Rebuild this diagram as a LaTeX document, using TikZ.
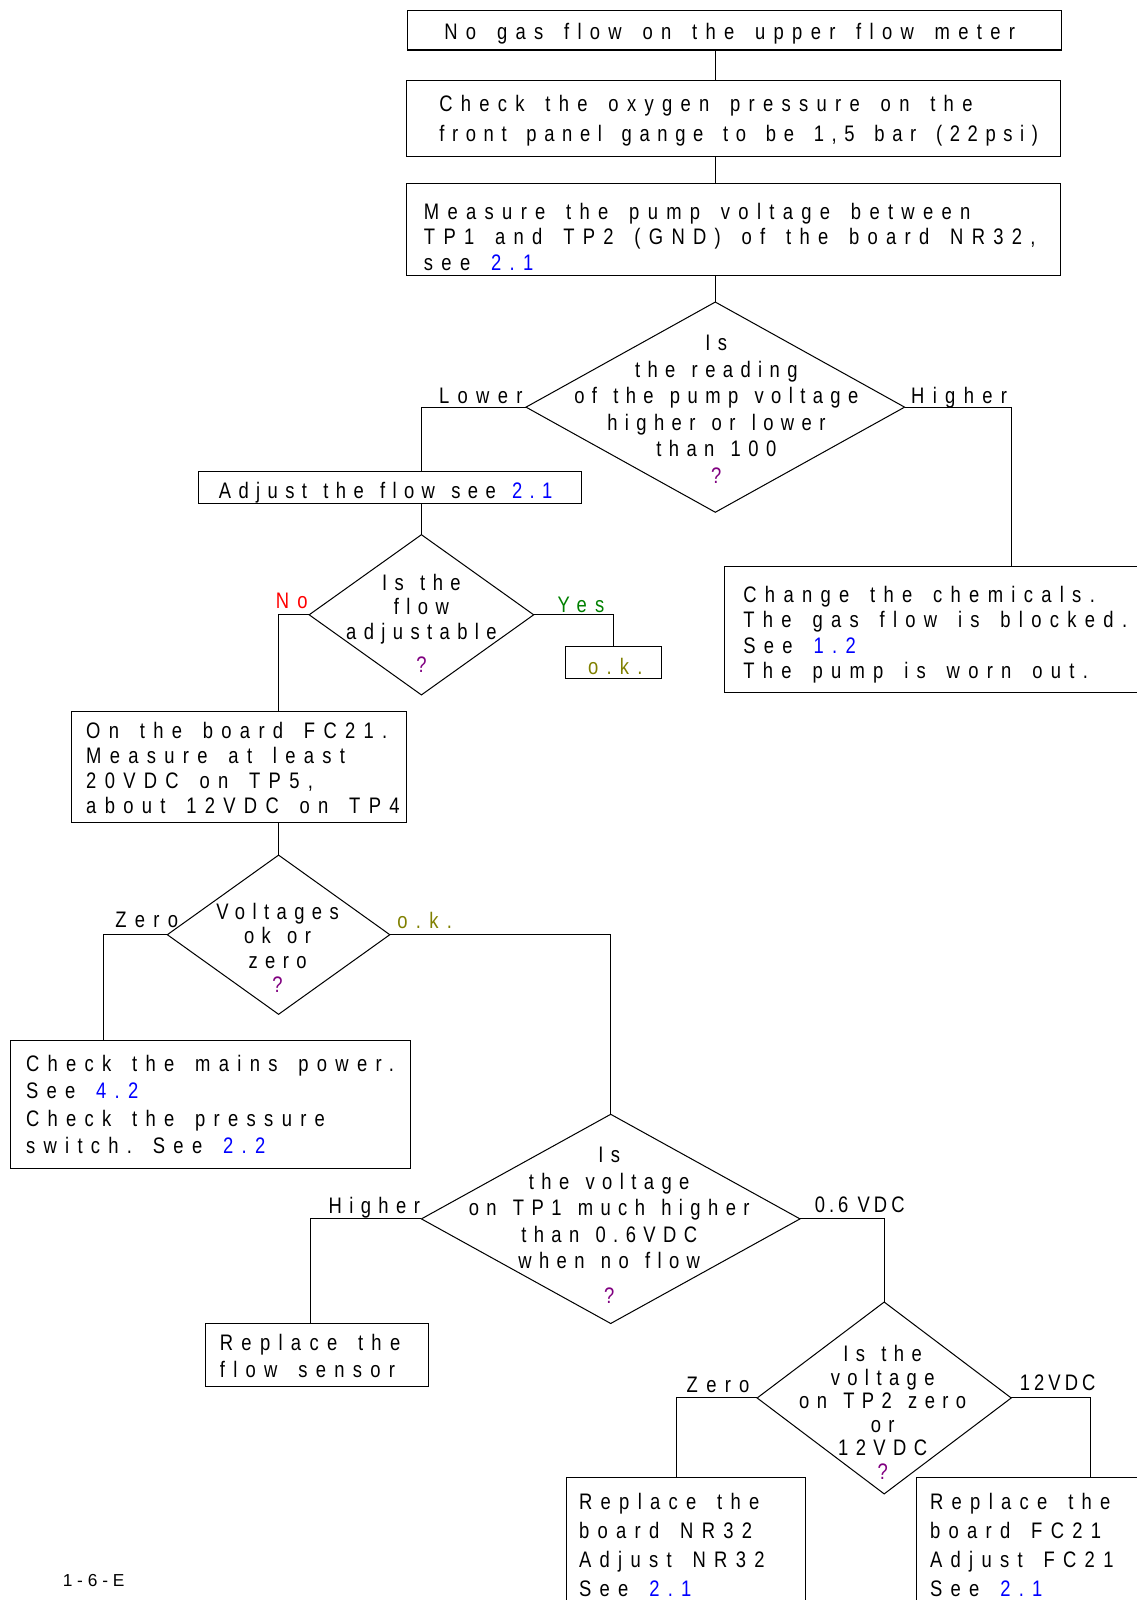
\documentclass[tikz,border=0pt]{standalone}
\usepackage{fontspec}
\setmainfont{Liberation Sans}
\newfontfamily\boxfont{Liberation Sans}[FakeStretch=0.82,LetterSpace=37,WordSpace=1.55]
\newfontfamily\diafont{Liberation Sans}[FakeStretch=0.82,LetterSpace=33,WordSpace=1.3]
\newfontfamily\tightfont{Liberation Sans}[FakeStretch=0.82,LetterSpace=18]
\usetikzlibrary{shapes.geometric}
\frenchspacing

\definecolor{lnkblue}{rgb}{0,0,1}
\definecolor{qpurple}{rgb}{0.5,0,0.5}
\definecolor{okolive}{rgb}{0.5,0.5,0}
\definecolor{yesgreen}{rgb}{0,0.5,0}
\definecolor{nored}{rgb}{1,0,0}
\newcommand{\lnk}[1]{\textcolor{lnkblue}{#1}}
\newcommand{\qm}{\textcolor{qpurple}{?}}

\begin{document}
\begin{tikzpicture}[x=1pt, y=-1pt, line width=1pt,
    box/.style={draw, inner sep=0pt, outer sep=0pt},
    boxtext/.style={anchor=west, align=left, inner sep=0pt, font={\fontsize{22pt}{#1}\boxfont}},
    boxtext/.default=26pt,
    dia/.style={draw, diamond, inner sep=0pt, outer sep=0pt},
    diatext/.style={align=center, inner sep=0pt, font={\fontsize{22pt}{#1}\diafont}},
    diatext/.default=25pt,
    lbl/.style={inner sep=1pt, font={\fontsize{22pt}{26pt}\boxfont}},
    dlbl/.style={inner sep=1pt, font={\fontsize{22pt}{26pt}\diafont}},
    tlbl/.style={inner sep=1pt, font={\fontsize{22pt}{26pt}\tightfont\spaceskip=9pt\relax}}]
\useasboundingbox (0,0) rectangle (1114,1568);
\clip (0,0) rectangle (1114,1568);

\node[box, minimum width=641pt, minimum height=39pt] (nogas) at (719.5,29.5) {};
\node[boxtext] (nogas-t) at ([xshift=36pt,yshift=-4pt]nogas.west) {No gas flow on the upper flow meter};
\node[box, minimum width=641pt, minimum height=74pt] (oxy) at (718.5,116) {};
\node[boxtext=29pt] (oxy-t) at ([xshift=32pt,yshift=-2pt]oxy.west) {Check the oxygen pressure on the\\{\addfontfeature{LetterSpace=34}front panel gange to be 1,5 bar (22psi)}};
\node[box, minimum width=641pt, minimum height=90pt] (pump) at (718.5,225) {};
\node[boxtext=25pt] (pump-t) at ([xshift=17pt,yshift=-7pt]pump.west) {Measure the pump voltage between\\TP1 and TP2 (GND) of the board NR32,\\see \lnk{2.1}};

\node[dia, minimum width=371pt, minimum height=206pt] (reading) at (701,399) {};
\node[diatext=26pt] (reading-t) at (702,401) {Is\\the reading\\of the pump voltage\\higher or lower\\than 100\\\qm};
\node[lbl, anchor=base east] (lower) at ([xshift=-2pt,yshift=4pt]reading.west) {Lower};
\node[lbl, anchor=base west] (higher) at ([xshift=5pt,yshift=4pt]reading.east) {Higher};

\node[box, minimum width=375pt, minimum height=31pt] (adjust) at (382.5,477.5) {};
\node[diatext, anchor=west] (adjust-t) at ([xshift=19pt,yshift=-5pt]adjust.west) {Adjust the flow see \lnk{2.1}};
\node[box, minimum width=562pt, minimum height=124pt] (chem) at (991,617) {};
\node[boxtext=25pt] (chem-t) at ([xshift=18pt,yshift=-5pt]chem.west) {Change the chemicals.\\The gas flow is blocked.\\See \lnk{1.2}\\The pump is worn out.};

\node[dia, minimum width=220pt, minimum height=157pt] (adjq) at (413,602.5) {};
\node[diatext=24pt] (adjq-t) at (413,611) {Is the\\flow\\adjustable\\[9pt]\qm};
\node[lbl, anchor=base east, text=nored] (no) at ([yshift=6pt]adjq.west) {No};
\node[lbl, anchor=base west, text=yesgreen] (yes) at ([xshift=22pt,yshift=2pt]adjq.east) {Yes};
\node[box, minimum width=94pt, minimum height=31pt] (ok) at (601,649.5) {};
\node[lbl, inner sep=0pt, text=okolive] (ok-t) at ([xshift=2pt,yshift=-4pt]ok.center) {o.k.};

\node[box, minimum width=328pt, minimum height=109pt] (fc) at (234,751.5) {};
\node[boxtext=24.5pt] (fc-t) at ([xshift=14pt,yshift=-1pt]fc.west) {On the board FC21.\\Measure at least\\20VDC on TP5,\\about 12VDC on TP4};

\node[dia, minimum width=218pt, minimum height=156pt] (volt) at (273,916) {};
\node[diatext=24pt] (volt-t) at (272,929) {Voltages\\ok or\\zero\\\qm};
\node[lbl, anchor=base east] (zero) at ([xshift=12pt,yshift=7pt]volt.west) {Zero};
\node[lbl, anchor=base west, text=okolive] (okay) at ([xshift=6pt,yshift=6pt]volt.east) {o.k.};

\node[box, minimum width=392pt, minimum height=125pt] (mains) at (206,1082.5) {};
\node[boxtext=27pt] (mains-t) at ([xshift=15pt]mains.west) {Check the mains power.\\See \lnk{4.2}\\Check the pressure\\switch. See \lnk{2.2}};

\node[dia, minimum width=371pt, minimum height=205pt] (tp1) at (598.5,1194.5) {};
\node[diatext=26pt] (tp1-t) at (597,1201) {Is\\the voltage\\on TP1 much higher\\than 0.6VDC\\when no flow\\[8pt]\qm};
\node[dlbl, anchor=base east] (tp1-hi) at ([yshift=5pt]tp1.west) {Higher};
\node[tlbl, anchor=base west] (tp1-lo) at ([xshift=13pt,yshift=6pt]tp1.east) {0.6 VDC};

\node[box, minimum width=219pt, minimum height=62pt] (sensor) at (310.5,1328) {};
\node[boxtext=27pt] (sensor-t) at ([xshift=14pt,yshift=-1pt]sensor.west) {Replace the\\flow sensor};

\node[dia, minimum width=249pt, minimum height=188pt] (tp2) at (866.5,1370) {};
\node[diatext=23pt] (tp2-t) at (865,1384) {Is the\\voltage\\on TP2 zero\\or\\12VDC\\\qm};
\node[lbl, anchor=base east] (tp2-zero) at ([xshift=-6pt,yshift=5pt]tp2.west) {Zero};
\node[tlbl, anchor=base west] (tp2-twelve) at ([xshift=7pt,yshift=7pt]tp2.east) {12VDC};

\node[box, minimum width=234pt, minimum height=132pt] (nr) at (672,1514) {};
\node[boxtext=28.5pt] (nr-t) at ([xshift=12pt]nr.west) {Replace the\\board NR32\\Adjust NR32\\See \lnk{2.1}};
\node[box, minimum width=342pt, minimum height=132pt] (fcr) at (1069,1514) {};
\node[boxtext=28.5pt] (fcr-t) at ([xshift=13pt]fcr.west) {Replace the\\board FC21\\Adjust FC21\\See \lnk{2.1}};

\node[font=\fontsize{17pt}{20pt}\selectfont, anchor=west, inner sep=0pt] (page) at (61,1549) {1 - 6 - E};

\draw (nogas.south -| reading.north) -- (oxy.north -| reading.north);
\draw (oxy.south -| reading.north) -- (pump.north -| reading.north);
\draw (pump.south -| reading.north) -- (reading.north);
\draw (reading.west) -| (adjust.north -| adjq.north);
\draw (reading.east) -| (chem.north);
\draw (adjust.south -| adjq.north) -- (adjq.north);
\draw (adjq.west) -| (fc.north -| volt.north);
\draw (adjq.east) -| (ok.north);
\draw (fc.south -| volt.north) -- (volt.north);
\draw (volt.west) -| ([xshift=-105pt]mains.north);
\draw (volt.east) -| (tp1.north);
\draw (tp1.west) -| ([xshift=-6pt]sensor.north);
\draw (tp1.east) -| (tp2.north);
\draw (tp2.west) -| ([xshift=-9pt]nr.north);
\draw (tp2.east) -| (fcr.north);
\end{tikzpicture}
\end{document}
